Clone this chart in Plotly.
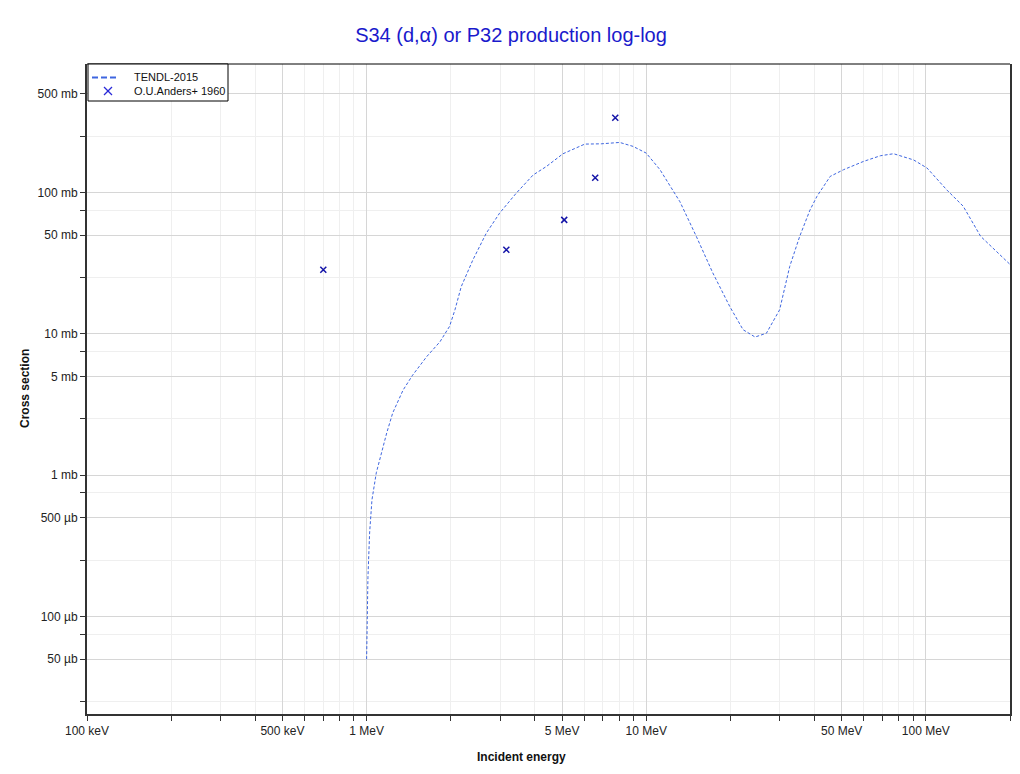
import plotly.graph_objects as go

# TENDL-2015 evaluated curve (energy in MeV, cross section in mb)
tendl_energy = [1.0, 1.0025, 1.011, 1.025, 1.045, 1.083, 1.13, 1.18, 1.24, 1.35,
                1.46, 1.64, 1.83, 1.98, 2.07, 2.18, 2.40, 2.68, 2.99, 3.43,
                3.94, 4.40, 5.04, 6.03, 6.9, 8.04, 8.97, 10.0, 11.2, 13.2,
                15.1, 17.3, 19.9, 22.2, 24.5, 26.9, 30.0, 32.6, 35.4, 38.5,
                40.8, 45.5, 50.8, 59.9, 68.8, 76.7, 90.4, 101, 119, 136,
                157, 200]
tendl_xs = [0.05, 0.10, 0.19, 0.39, 0.67, 1.04, 1.44, 1.99, 2.76, 4.0,
            5.1, 6.9, 8.8, 11.3, 14.8, 21.6, 33.4, 51.6, 71.5, 99,
            133, 153, 188, 220, 221, 226, 212, 190, 145, 86,
            49, 27, 15.6, 10.7, 9.5, 10.1, 14.8, 30, 49, 75,
            94, 130, 145, 166, 182, 188, 170, 149, 104, 80,
            49, 31]

# O.U.Anders+ 1960 experimental points
exp_energy = [0.70, 3.16, 5.09, 6.57, 7.75]
exp_xs = [28.4, 39.3, 64, 127, 338]

series_names = ["TENDL-2015", "O.U.Anders+ 1960"]

# Axis ticks
x_tickvals = [0.1, 0.5, 1, 5, 10, 50, 100]
x_ticktext = ["100 keV", "500 keV", "1 MeV", "5 MeV", "10 MeV", "50 MeV", "100 MeV"]
x_minor = [0.2, 0.3, 0.4, 0.6, 0.7, 0.8, 0.9, 2, 3, 4, 6, 7, 8, 9,
           20, 30, 40, 60, 70, 80, 90, 200]
y_tickvals = [500, 100, 50, 10, 5, 1, 0.5, 0.1, 0.05]
y_ticktext = ["500 mb", "100 mb", "50 mb", "10 mb", "5 mb", "1 mb",
              "500 µb", "100 µb", "50 µb"]
y_minor = [250, 75, 25, 7.5, 2.5, 0.75, 0.25, 0.075, 0.025]

FONT = "Liberation Sans, Arial, sans-serif"
LINE_COLOR = "#3e66e0"
MARK_COLOR = "#1414a8"

# page has an 8px body margin; size figure so it fits the window exactly
W, H = 1004, 758
ML, MR, MT, MB = 79, 2, 56, 52
PW = W - ML - MR
PH = H - MT - MB
OX, OY = 87, 714  # page position of plot's bottom-left corner


def px(x):
    return (x - OX) / PW


def py(y):
    return (OY - y) / PH


fig = go.Figure()
fig.add_trace(go.Scatter(
    x=tendl_energy, y=tendl_xs, mode="lines", name=series_names[0],
    line=dict(color=LINE_COLOR, width=1, dash="3px,2px"), showlegend=False,
))
fig.add_trace(go.Scatter(
    x=exp_energy, y=exp_xs, mode="markers", name=series_names[1],
    marker=dict(symbol="x-thin", size=6, line=dict(color=MARK_COLOR, width=1.5),
                color=MARK_COLOR), showlegend=False,
))

axis_common = dict(
    showline=True, linecolor="#333333", linewidth=2,
    ticks="outside", ticklen=5, tickcolor="#333333", tickwidth=1,
    gridcolor="#d6d6d6", gridwidth=1, zeroline=False, automargin=False,
    tickfont=dict(family=FONT, size=12, color="#222222"),
)

fig.update_xaxes(
    type="log", range=[-1.0, 2.301],
    tickmode="array", tickvals=x_tickvals, ticktext=x_ticktext,
    minor=dict(tickmode="array", tickvals=x_minor, showgrid=True,
               gridcolor="#efefef", ticks="outside", ticklen=5,
               tickcolor="#333333"),
    **axis_common,
)
fig.update_yaxes(
    type="log", range=[-1.689, 2.909],
    tickmode="array", tickvals=y_tickvals, ticktext=y_ticktext,
    minor=dict(tickmode="array", tickvals=y_minor, showgrid=True,
               gridcolor="#efefef", ticks="outside", ticklen=5,
               tickcolor="#333333"),
    mirror=True,
    **axis_common,
)

legend_font = dict(family=FONT, size=11, color="#111111")
fig.update_layout(
    width=W, height=H,
    margin=dict(l=ML, r=MR, t=MT, b=MB, autoexpand=False),
    paper_bgcolor="white", plot_bgcolor="white",
    font=dict(family=FONT, size=12, color="#222222"),
    title=dict(text="S34 (d,α) or P32 production log-log",
               x=503 / W, xref="container", xanchor="center",
               y=1 - 27 / H, yref="container", yanchor="middle",
               font=dict(family=FONT, size=20, color="#1a1acc")),
    showlegend=False,
    annotations=[
        dict(text="<b>Incident energy</b>", xref="paper", yref="paper",
             x=px(521), y=py(757), xanchor="center", yanchor="middle",
             showarrow=False, font=dict(family=FONT, size=12, color="#111111")),
        dict(text="<b>Cross section</b>", xref="paper", yref="paper",
             x=px(25), y=0.5, xanchor="center", yanchor="middle",
             textangle=-90, showarrow=False,
             font=dict(family=FONT, size=12, color="#111111")),
        dict(text=series_names[0], xref="paper", yref="paper",
             x=px(132), y=py(77), xanchor="left", yanchor="middle",
             showarrow=False, font=legend_font),
        dict(text=series_names[1], xref="paper", yref="paper",
             x=px(132), y=py(91), xanchor="left", yanchor="middle",
             showarrow=False, font=legend_font),
    ],
    shapes=[
        dict(type="line", xref="paper", yref="paper", x0=0, x1=1, y0=1, y1=1,
             line=dict(color="black", width=1)),
        # legend box
        dict(type="rect", xref="paper", yref="paper",
             x0=px(88), x1=px(228), y0=py(101), y1=py(64),
             line=dict(color="black", width=1), fillcolor="white"),
        # legend line sample
        dict(type="line", xref="paper", yref="paper",
             x0=px(92), x1=px(116), y0=py(77.5), y1=py(77.5),
             line=dict(color=LINE_COLOR, width=2, dash="6px,3px")),
        # legend marker sample (x)
        dict(type="line", xref="paper", yref="paper",
             x0=px(104), x1=px(112), y0=py(87), y1=py(95),
             line=dict(color="#2a2ad8", width=1.2)),
        dict(type="line", xref="paper", yref="paper",
             x0=px(104), x1=px(112), y0=py(95), y1=py(87),
             line=dict(color="#2a2ad8", width=1.2)),
    ],
)

fig.write_html("out.html")
